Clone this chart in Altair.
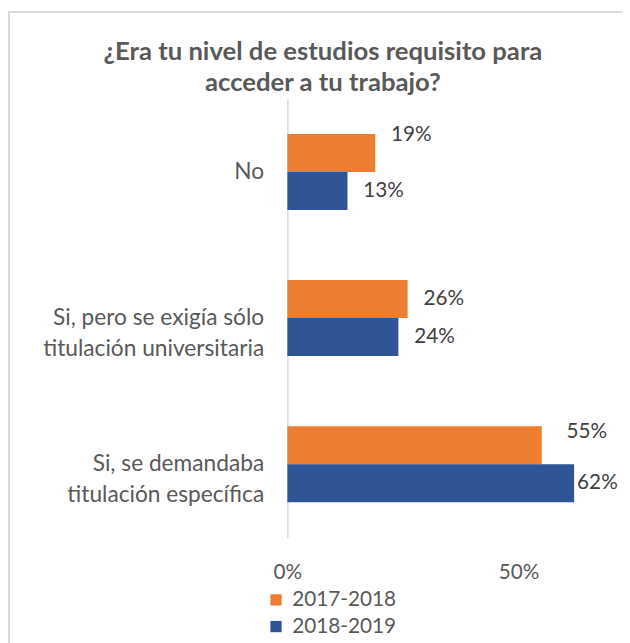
import altair as alt
import pandas as pd

title_lines = ["¿Era tu nivel de estudios requisito para", "acceder a tu trabajo?"]
categories = ["No", "Si, pero se exigía sólo|titulación universitaria", "Si, se demandaba|titulación específica"]
series = ["2017-2018", "2018-2019"]
values_2017_2018 = [0.19, 0.26, 0.55]
values_2018_2019 = [0.13, 0.24, 0.62]
colors = ["#ED7D31", "#2F5597"]

rows = []
for c, v in zip(categories, values_2017_2018):
    rows.append({"category": c, "series": series[0], "value": v})
for c, v in zip(categories, values_2018_2019):
    rows.append({"category": c, "series": series[1], "value": v})
df = pd.DataFrame(rows)

FONT = "Lato"
W, H = 328, 444

base = alt.Chart(df).encode(
    y=alt.Y("category:N", sort=categories,
            scale=alt.Scale(paddingInner=0.48, paddingOuter=0.24),
            axis=alt.Axis(title=None, ticks=False, domainColor="#d9d9d9", domainWidth=1.5,
                          labelPadding=24, labelFontSize=23, labelFont=FONT,
                          labelColor="#595959", labelLineHeight=31, labelLimit=400,
                          labelExpr="split(datum.label, '|')")),
    yOffset=alt.YOffset("series:N", sort=series, scale=alt.Scale(paddingInner=0, paddingOuter=0)),
)

bars = base.mark_bar().encode(
    x=alt.X("value:Q", scale=alt.Scale(domain=[0, 0.7]),
            axis=alt.Axis(title=None, values=[0, 0.5], format=".0%", domain=False, ticks=False,
                          grid=False, labelFlush=False, labelPadding=25, labelFontSize=21,
                          labelFont=FONT, labelColor="#595959")),
    color=alt.Color("series:N", sort=series, scale=alt.Scale(domain=series, range=colors),
                    legend=alt.Legend(title=None, orient="none", legendX=-22, legendY=497,
                                      symbolType="square", symbolSize=130, symbolStrokeWidth=0,
                                      labelFontSize=21, labelFont=FONT, labelColor="#595959",
                                      rowPadding=5, labelOffset=6)),
)

def lbl(filter_expr, dx, dy):
    return base.mark_text(align="left", baseline="middle", fontSize=21, font=FONT,
                          color="#404040", dx=dx, dy=dy).encode(
        x="value:Q",
        text=alt.Text("value:Q", format=".0%"),
    ).transform_filter(filter_expr)

is19 = "datum.series == '2017-2018' && datum.category == 'No'"
is55 = "datum.series == '2017-2018' && datum.category == 'Si, se demandaba|titulación específica'"
is62 = "datum.series == '2018-2019' && datum.category == 'Si, se demandaba|titulación específica'"

labels_default = lbl(f"!({is19}) && !({is55}) && !({is62})", 16, 0)
label19 = lbl(is19, 16, -18)
label55 = lbl(is55, 25, -13)
label62 = lbl(is62, 3, 0)

one = pd.DataFrame({"k": [0]})
border = alt.Chart(one).mark_rect(fill=None, stroke="#d9d9d9", strokeWidth=2).encode(
    x=alt.value(-282), x2=alt.value(W + 40), y=alt.value(-88), y2=alt.value(H + 150)
)
title = alt.Chart(one).mark_text(
    text="\n".join(title_lines), lineBreak="\n", lineHeight=31,
    align="center", baseline="alphabetic", font=FONT, fontSize=26, fontWeight="bold",
    color="#595959",
).encode(x=alt.value(36), y=alt.value(-39))

chart = alt.layer(border, title, bars, labels_default, label19, label55, label62).properties(
    width=W, height=H,
    autosize=alt.AutoSizeParams(type="none"),
    padding={"left": 283, "top": 88, "right": 11, "bottom": 103},
).configure_view(stroke=None)

chart.save("out.html", embed_options={"renderer": "svg", "actions": False})
